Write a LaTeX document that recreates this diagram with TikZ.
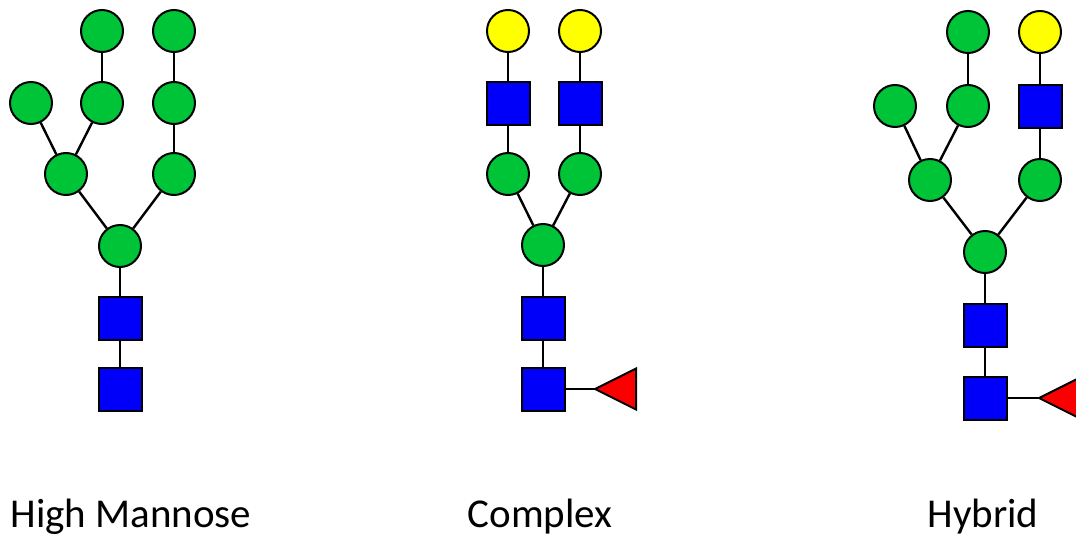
\documentclass[tikz,border=0pt]{standalone}
\usepackage{fontspec}
\setmainfont{Carlito}
\definecolor{glcgreen}{RGB}{0,196,56}
\definecolor{glcblue}{RGB}{0,0,250}
\definecolor{glcyellow}{RGB}{255,255,0}
\definecolor{glcred}{RGB}{250,0,0}
\tikzset{
  man/.style={circle,draw=black,fill=glcgreen,line width=2pt,minimum size=42pt,inner sep=0pt},
  gal/.style={circle,draw=black,fill=glcyellow,line width=2pt,minimum size=42pt,inner sep=0pt},
  glcnac/.style={rectangle,draw=black,fill=glcblue,line width=2pt,minimum size=43pt,inner sep=0pt},
  fuc/.style={draw=black,fill=glcred,line width=2pt,line join=miter},
  bond/.style={line width=2.4pt,black},
  caption/.style={font=\fontsize{41pt}{49pt}\selectfont,anchor=base,inner sep=0pt}
}
% fucose: left-pointing triangle whose apex sits at the given coordinate
\newcommand{\fucose}[1]{\draw[fuc] (#1) -- ++(41,-20.5) -- ++(0,41) -- cycle;}
\begin{document}
\begin{tikzpicture}[x=1pt,y=-1pt]
\useasboundingbox (0,0) rectangle (1076,538);
\clip (0,0) rectangle (1076,538);

% High mannose
\node[man] (hA1) at (102,31) {};
\node[man] (hA2) at (174,31) {};
\node[man] (hB1) at (31,103) {};
\node[man] (hB2) at (102,103) {};
\node[man] (hB3) at (174,103) {};
\node[man] (hC1) at (66,174) {};
\node[man] (hC2) at (174,174) {};
\node[man] (hD) at (120,246) {};
\node[glcnac] (hE) at (120,318) {};
\node[glcnac] (hF) at (120,389) {};
\draw[bond] (hA1) -- (hB2);
\draw[bond] (hA2) -- (hB3);
\draw[bond] (hB1) -- (hC1);
\draw[bond] (hB2) -- (hC1);
\draw[bond] (hB3) -- (hC2);
\draw[bond] (hC1) -- (hD);
\draw[bond] (hC2) -- (hD);
\draw[bond] (hD) -- (hE);
\draw[bond] (hE) -- (hF);
\node[caption] (hLabel) at (131,527) {High Mannose};

% Complex
\node[gal] (cA1) at (508,31) {};
\node[gal] (cA2) at (580,31) {};
\node[glcnac] (cB1) at (508,103) {};
\node[glcnac] (cB2) at (580,103) {};
\node[man] (cC1) at (508,174) {};
\node[man] (cC2) at (580,174) {};
\node[man] (cD) at (543,245) {};
\node[glcnac] (cE) at (543,318) {};
\node[glcnac] (cF) at (543,389) {};
\coordinate (cG) at (595,389);
\draw[bond] (cA1) -- (cB1);
\draw[bond] (cA2) -- (cB2);
\draw[bond] (cB1) -- (cC1);
\draw[bond] (cB2) -- (cC2);
\draw[bond] (cC1) -- (cD);
\draw[bond] (cC2) -- (cD);
\draw[bond] (cD) -- (cE);
\draw[bond] (cE) -- (cF);
\draw[bond] (cF) -- (cG);
\fucose{cG}
\node[caption] (cLabel) at (540,527) {Complex};

% Hybrid
\node[man] (yA1) at (968,32) {};
\node[gal] (yA2) at (1040,32) {};
\node[man] (yB1) at (895,106) {};
\node[man] (yB2) at (968,106) {};
\node[glcnac] (yB3) at (1040,106) {};
\node[man] (yC1) at (930,180) {};
\node[man] (yC2) at (1040,180) {};
\node[man] (yD) at (985,252) {};
\node[glcnac] (yE) at (985,325) {};
\node[glcnac] (yF) at (985,398) {};
\coordinate (yG) at (1039,398);
\draw[bond] (yA1) -- (yB2);
\draw[bond] (yA2) -- (yB3);
\draw[bond] (yB1) -- (yC1);
\draw[bond] (yB2) -- (yC1);
\draw[bond] (yB3) -- (yC2);
\draw[bond] (yC1) -- (yD);
\draw[bond] (yC2) -- (yD);
\draw[bond] (yD) -- (yE);
\draw[bond] (yE) -- (yF);
\draw[bond] (yF) -- (yG);
\fucose{yG}
\node[caption] (yLabel) at (983,527) {Hybrid};
\end{tikzpicture}
\end{document}
